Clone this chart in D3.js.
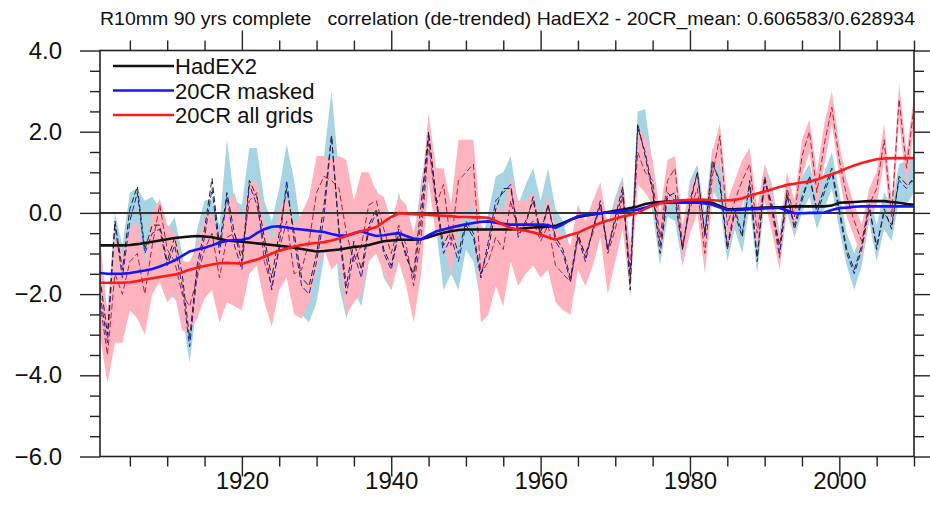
<!DOCTYPE html>
<html>
<head>
<meta charset="utf-8">
<script src="https://cdn.jsdelivr.net/npm/d3@7/dist/d3.min.js"></script>
<style>
  html, body { margin: 0; padding: 0; background: #fff; }
  svg { display: block; font-family: "Liberation Sans", Arial, Helvetica, sans-serif; }
</style>
</head>
<body>
<svg id="chart" width="930" height="523"></svg>
<script>
// R10mm anomalies, 1901-2010
const years = d3.range(1901, 2011);

// HadEX2 annual anomalies (dashed black)
const hadex = [
  -1.6,-3.0,-0.2,-1.4,0.1,0.65,-0.9,-0.3,-0.3,-1.2,
  -0.6,-1.5,-3.1,-1.3,-0.4,0.85,-0.8,0.5,-0.5,-1.2,
  0.8,0.4,-0.6,-1.6,-0.5,0.6,-0.5,-1.6,-1.8,-1.0,
  0.2,1.9,-0.4,-1.8,-0.7,-1.4,-0.3,0.1,-0.9,-1.3,
  -0.4,-1.1,-1.5,0.2,2.0,0.4,-0.8,-0.4,-1.0,-0.2,
  -0.5,-1.5,-0.9,0.1,0.6,0.6,-0.4,-0.3,0.4,-0.5,
  0.2,-0.6,-0.9,-1.6,-0.5,-1.1,-0.4,0.2,-0.9,-0.1,
  0.65,-1.9,2.2,1.4,0.5,-1.0,0.4,0.5,-0.9,0.3,
  1.0,-0.5,1.3,0.7,-0.9,0.0,-0.6,0.8,-1.1,0.9,
  0.1,-0.8,0.5,-0.4,0.3,0.9,0.1,0.6,1.1,0.1,
  -0.9,-1.4,-0.8,0.2,-0.9,0.1,-0.4,0.9,0.7,0.8
];

// 20CR ensemble mean, masked to HadEX2 coverage (dashed blue) and its spread
const masked = [
  -2.0,-3.2,-0.3,-1.6,-0.2,0.5,-1.0,-0.5,-0.4,-1.3,
  -0.8,-1.8,-3.3,-1.5,-0.6,0.6,-1.0,0.4,-0.8,-1.4,
  0.7,0.2,-0.8,-1.9,-0.8,0.8,-0.7,-1.8,-2.0,-1.2,
  -0.1,1.9,-0.5,-2.0,-1.0,-1.6,-0.4,0.0,-1.0,-1.4,
  -0.5,-1.0,-1.6,-0.2,1.9,0.3,-1.0,-0.6,-1.2,-0.3,
  -0.6,-1.6,-0.7,0.3,0.5,0.7,-0.6,-0.2,0.3,-0.6,
  0.2,-0.7,-1.0,-1.7,-0.6,-1.2,-0.4,0.3,-0.9,-0.2,
  0.5,-1.6,2.1,1.5,0.6,-0.8,0.5,0.3,-0.9,0.2,
  1.0,-0.6,1.2,0.8,-0.8,0.1,-0.5,0.7,-1.2,0.8,
  0.2,-1.0,0.4,-0.3,0.4,0.9,0.0,0.5,1.0,0.0,
  -1.0,-1.5,-0.9,0.1,-0.8,0.0,-0.3,0.8,0.6,0.9
];
const maskedLo = [
  -2.8,-3.6,-1.2,-2.2,-0.8,-0.4,-1.6,-1.2,-1.1,-2.0,
  -2.1,-2.5,-3.7,-2.2,-1.4,-0.9,-1.8,-0.6,-1.6,-2.2,
  -0.4,-0.8,-1.8,-2.4,-1.6,-0.5,-1.6,-2.5,-2.7,-2.2,
  -1.1,0.5,-1.8,-2.6,-1.9,-2.3,-1.2,-0.8,-1.6,-1.9,
  -1.0,-1.6,-2.2,-1.2,0.9,-0.4,-1.9,-1.5,-1.9,-0.9,
  -1.2,-2.2,-1.4,-0.6,-0.4,-0.2,-1.4,-1.0,-0.5,-1.2,
  -0.5,-1.4,-1.7,-2.2,-1.3,-1.8,-1.0,-0.3,-1.6,-0.8,
  -0.1,-2.1,1.4,1.1,0.0,-1.3,-0.1,-0.2,-1.3,-0.4,
  0.4,-1.1,0.6,0.2,-1.2,-0.4,-1.0,0.2,-1.5,0.3,
  -0.3,-1.3,0.0,-0.6,0.0,0.4,-0.4,0.1,0.6,-0.4,
  -1.3,-1.9,-1.3,-0.2,-1.2,-0.4,-0.7,0.3,0.2,0.5
];
const maskedHi = [
  -1.2,-2.4,0.0,-0.8,0.5,0.6,0.3,0.4,0.1,-0.4,
  -0.1,-1.0,-2.0,-0.4,0.3,0.35,-0.3,1.8,0.3,0.2,
  1.6,1.6,0.3,-0.2,0.6,1.7,0.8,-0.5,-0.6,0.0,
  1.4,3.0,1.0,-0.4,-0.2,-0.4,0.6,0.6,0.0,-0.6,
  0.5,-0.2,-0.8,0.8,1.7,0.6,-0.4,0.1,-0.4,0.5,
  0.2,-0.8,0.0,0.9,1.0,1.4,0.2,0.7,1.1,0.3,
  1.1,0.1,-0.2,-0.9,0.2,-0.5,0.3,0.6,-0.3,0.4,
  0.9,-1.0,2.5,2.55,1.2,-0.3,1.0,0.9,-0.4,0.8,
  1.2,0.0,1.6,1.3,-0.3,0.6,0.0,1.2,-0.7,1.2,
  0.7,-0.5,0.9,0.2,0.9,1.2,0.5,1.0,1.5,0.5,
  -0.5,-1.0,-0.4,0.5,-0.3,0.5,0.2,1.2,1.3,1.4
];

// 20CR ensemble mean over all grid boxes (dashed red) and its spread
const allGrids = [
  -2.2,-3.5,-1.5,-2.0,-1.2,-1.0,-2.0,-0.8,0.2,-0.9,
  -1.2,-2.0,-2.3,-1.6,-0.9,-0.5,-1.6,-0.6,-0.5,-1.0,
  0.3,0.5,-1.2,-1.8,-0.9,-0.2,-1.5,-1.4,-0.7,0.5,
  0.9,0.8,0.6,-0.5,-1.2,-0.8,0.2,0.3,-0.4,-1.0,
  -0.3,-0.8,-1.8,-0.6,1.7,0.2,0.7,-0.8,0.8,1.0,
  1.2,-1.5,-1.2,-0.6,-0.9,0.3,-0.5,-0.4,-0.2,-0.7,
  -0.3,-1.3,-1.5,-1.7,-0.6,-1.0,-0.5,0.2,-1.0,-0.4,
  0.4,-1.4,1.5,1.0,0.8,-0.6,0.8,1.1,-0.8,0.1,
  0.6,-1.0,0.9,1.9,-0.3,0.3,0.8,1.2,-0.5,0.8,
  0.0,-1.1,0.6,-0.1,1.4,2.0,0.5,1.7,2.6,1.3,
  0.4,-0.2,-0.7,0.2,0.6,1.8,-0.1,2.8,1.1,2.6
];
const allLo = [
  -3.0,-4.2,-3.2,-3.2,-2.4,-2.6,-3.0,-2.0,-1.7,-2.2,
  -2.0,-2.9,-2.9,-2.6,-2.1,-1.9,-2.7,-2.2,-2.3,-2.4,
  -1.5,-1.3,-2.2,-2.8,-1.9,-1.6,-2.5,-2.6,-2.2,-1.4,
  -0.9,-1.4,-1.2,-2.5,-2.2,-2.0,-1.2,-1.0,-1.5,-1.9,
  -1.2,-1.8,-2.7,-1.5,0.8,-0.6,-0.6,-1.6,-0.4,0.0,
  0.2,-2.7,-2.5,-1.8,-2.3,-1.2,-1.8,-1.5,-1.3,-1.6,
  -1.4,-2.2,-2.4,-2.5,-1.4,-1.8,-1.3,-0.6,-2.0,-1.2,
  -0.4,-2.0,0.7,0.5,0.2,-1.0,0.2,0.5,-1.3,-0.5,
  0.0,-1.5,0.3,1.4,-0.9,-0.3,0.2,0.7,-1.0,0.3,
  -0.5,-1.4,0.2,-0.5,0.9,1.5,0.1,1.2,2.2,0.9,
  -0.1,-0.6,-1.1,-0.2,0.2,1.3,-0.5,2.3,0.6,2.1
];
const allHi = [
  -0.6,-2.5,-0.5,-1.0,-0.4,-0.2,-1.2,0.0,0.35,-0.3,
  -0.5,-1.2,-1.2,-0.8,-0.1,0.0,-0.6,0.2,0.5,-0.2,
  0.75,0.8,-0.2,-0.7,0.1,0.4,-0.3,0.0,0.4,1.4,
  1.4,1.3,1.4,1.3,0.3,1.0,1.0,0.5,0.4,-0.2,
  0.4,0.2,-0.5,0.5,2.45,1.1,1.1,0.2,1.8,1.8,
  1.8,-0.3,-0.5,0.2,0.0,0.9,0.3,0.3,0.5,-0.1,
  0.4,-0.3,-0.6,-0.8,0.2,-0.2,0.3,0.75,-0.3,0.2,
  0.8,-0.8,2.1,1.9,1.3,0.0,1.3,1.4,-0.3,0.6,
  1.0,-0.4,1.5,2.2,0.3,0.8,1.3,1.6,0.1,1.2,
  0.5,-0.6,1.0,0.3,1.8,2.3,1.0,2.2,3.0,1.7,
  0.8,0.2,-0.3,0.6,1.0,2.2,0.3,3.2,1.5,2.9
];

// Smoothed curves (solid)
const hadexSmooth = [
  -0.80,-0.80,-0.80,-0.80,-0.79,-0.77,-0.74,-0.71,-0.68,-0.65,
  -0.62,-0.60,-0.58,-0.57,-0.58,-0.60,-0.64,-0.68,-0.70,-0.71,
  -0.73,-0.75,-0.77,-0.79,-0.81,-0.83,-0.86,-0.89,-0.92,-0.95,
  -0.94,-0.92,-0.90,-0.87,-0.84,-0.82,-0.79,-0.74,-0.70,-0.68,
  -0.66,-0.66,-0.66,-0.65,-0.60,-0.54,-0.49,-0.45,-0.42,-0.41,
  -0.41,-0.41,-0.41,-0.41,-0.41,-0.41,-0.40,-0.38,-0.36,-0.35,
  -0.34,-0.32,-0.25,-0.17,-0.10,-0.07,-0.04,-0.01,0.02,0.05,
  0.08,0.12,0.16,0.22,0.25,0.27,0.28,0.29,0.29,0.29,
  0.28,0.27,0.25,0.17,0.09,0.09,0.10,0.11,0.12,0.13,
  0.14,0.14,0.15,0.16,0.16,0.16,0.16,0.16,0.18,0.25,
  0.26,0.27,0.28,0.29,0.29,0.29,0.27,0.25,0.22,0.20
];
const maskedSmooth = [
  -1.48,-1.50,-1.50,-1.50,-1.48,-1.45,-1.42,-1.38,-1.32,-1.25,
  -1.17,-1.06,-0.95,-0.90,-0.86,-0.80,-0.73,-0.69,-0.67,-0.66,
  -0.62,-0.50,-0.40,-0.34,-0.33,-0.36,-0.39,-0.41,-0.43,-0.45,
  -0.47,-0.52,-0.56,-0.56,-0.50,-0.45,-0.52,-0.57,-0.55,-0.52,
  -0.50,-0.57,-0.63,-0.65,-0.55,-0.46,-0.41,-0.36,-0.32,-0.28,
  -0.25,-0.22,-0.21,-0.24,-0.27,-0.29,-0.29,-0.29,-0.29,-0.29,
  -0.30,-0.37,-0.28,-0.17,-0.08,-0.05,-0.03,-0.01,0.01,0.03,
  0.05,0.06,0.08,0.13,0.19,0.24,0.25,0.25,0.25,0.25,
  0.25,0.23,0.20,0.13,0.07,0.07,0.08,0.09,0.10,0.11,
  0.12,0.12,0.06,-0.01,-0.01,0.00,0.00,0.01,0.07,0.12,
  0.13,0.15,0.16,0.16,0.16,0.16,0.16,0.16,0.16,0.16
];
const allSmooth = [
  -1.72,-1.72,-1.72,-1.72,-1.71,-1.68,-1.64,-1.61,-1.58,-1.55,
  -1.52,-1.46,-1.40,-1.35,-1.31,-1.27,-1.24,-1.23,-1.24,-1.25,
  -1.20,-1.15,-1.08,-1.00,-0.93,-0.88,-0.83,-0.79,-0.76,-0.74,
  -0.72,-0.68,-0.63,-0.57,-0.50,-0.45,-0.40,-0.35,-0.22,-0.10,
  -0.01,-0.02,-0.03,-0.04,-0.05,-0.06,-0.07,-0.08,-0.10,-0.10,
  -0.11,-0.11,-0.12,-0.20,-0.29,-0.37,-0.41,-0.44,-0.48,-0.53,
  -0.60,-0.66,-0.60,-0.54,-0.49,-0.40,-0.32,-0.25,-0.19,-0.14,
  -0.09,-0.05,0.00,0.10,0.18,0.24,0.27,0.29,0.31,0.32,
  0.33,0.32,0.31,0.30,0.31,0.32,0.36,0.42,0.48,0.53,
  0.58,0.64,0.69,0.72,0.75,0.77,0.82,0.89,0.95,1.02,
  1.10,1.17,1.23,1.28,1.32,1.34,1.35,1.35,1.35,1.35
];

const legendLabels = ["HadEX2", "20CR masked", "20CR all grids"];
const yTickValues = [4, 2, 0, -2, -4, -6];
const xTickValues = [1920, 1940, 1960, 1980, 2000];
const titleText = "R10mm 90 yrs complete   correlation (de-trended) HadEX2 - 20CR_mean: 0.606583/0.628934";

(function draw() {
  const W = 930, H = 523;
  const margin = { left: 100, right: 16, top: 50.5, bottom: 66.5 };
  const svg = d3.select("#chart");

  const x = d3.scaleLinear().domain([1901, 2010]).range([margin.left, W - margin.right]);
  const y = d3.scaleLinear().domain([-6, 4]).range([H - margin.bottom, margin.top]);

  const blueFill = "#a7d4e2", pinkFill = "#ffb3bf";
  const lineBlue = "#1414ff", lineRed = "#ff1a1a";

  const idx = d3.range(years.length);
  svg.append("clipPath").attr("id", "plotclip").append("rect")
    .attr("x", x(1901)).attr("y", y(4)).attr("width", x(2010) - x(1901)).attr("height", y(-6) - y(4));
  const plot = svg.append("g").attr("clip-path", "url(#plotclip)");

  // spread bands
  const band = (lo, hi) => d3.area().x(i => x(years[i])).y0(i => y(lo[i])).y1(i => y(hi[i]));
  plot.append("path").attr("d", band(maskedLo, maskedHi)(idx)).attr("fill", blueFill);
  plot.append("path").attr("d", band(allLo, allHi)(idx)).attr("fill", pinkFill);

  // annual series, dashed
  const line = arr => d3.line().x(i => x(years[i])).y(i => y(arr[i]))(idx);
  plot.append("path").attr("d", line(allGrids)).attr("fill", "none")
    .attr("stroke", "#b02040").attr("stroke-width", 1).attr("stroke-dasharray", "6,3");
  plot.append("path").attr("d", line(masked)).attr("fill", "none")
    .attr("stroke", "#2020b0").attr("stroke-width", 1).attr("stroke-dasharray", "6,3");
  plot.append("path").attr("d", line(hadex)).attr("fill", "none")
    .attr("stroke", "#222").attr("stroke-width", 1).attr("stroke-dasharray", "6,3");

  // zero reference
  plot.append("line").attr("x1", x(1901)).attr("x2", x(2010)).attr("y1", y(0)).attr("y2", y(0))
    .attr("stroke", "#333").attr("stroke-width", 2);

  // smoothed curves
  plot.append("path").attr("d", line(hadexSmooth)).attr("fill", "none").attr("stroke", "#111").attr("stroke-width", 2.6);
  plot.append("path").attr("d", line(maskedSmooth)).attr("fill", "none").attr("stroke", lineBlue).attr("stroke-width", 2.6);
  plot.append("path").attr("d", line(allSmooth)).attr("fill", "none").attr("stroke", lineRed).attr("stroke-width", 2.6);

  // frame
  svg.append("rect").attr("x", x(1901)).attr("y", y(4)).attr("width", x(2010) - x(1901)).attr("height", y(-6) - y(4))
    .attr("fill", "none").attr("stroke", "#222").attr("stroke-width", 1.6);

  // axes
  const yMinor = d3.range(-6, 4.01, 0.5).filter(v => !yTickValues.includes(v));
  const xMinor = d3.range(1905, 2010.1, 5).filter(v => !xTickValues.includes(v));

  const axLeft = svg.append("g").attr("transform", `translate(${x(1901)},0)`)
    .call(d3.axisLeft(y).tickValues(yTickValues).tickSize(20).tickPadding(18).tickFormat(d3.format(".1f")));
  axLeft.append("g").call(d3.axisLeft(y).tickValues(yMinor).tickSize(10).tickFormat(""));
  const axRight = svg.append("g").attr("transform", `translate(${x(2010)},0)`)
    .call(d3.axisRight(y).tickValues(yTickValues).tickSize(20).tickFormat(""));
  axRight.append("g").call(d3.axisRight(y).tickValues(yMinor).tickSize(10).tickFormat(""));
  const axBottom = svg.append("g").attr("transform", `translate(0,${y(-6)})`)
    .call(d3.axisBottom(x).tickValues(xTickValues).tickSize(20).tickPadding(-5).tickFormat(d3.format("d")));
  axBottom.append("g").call(d3.axisBottom(x).tickValues(xMinor).tickSize(10).tickFormat(""));
  const axTop = svg.append("g").attr("transform", `translate(0,${y(4)})`)
    .call(d3.axisTop(x).tickValues(xTickValues).tickSize(20).tickFormat(""));
  axTop.append("g").call(d3.axisTop(x).tickValues(xMinor).tickSize(10).tickFormat(""));

  svg.selectAll(".domain").remove();
  svg.selectAll(".tick line").attr("stroke", "#222").attr("stroke-width", 1.4);
  axLeft.selectAll(".tick text").attr("font-size", 24).attr("fill", "#111")
    .attr("font-family", "Liberation Sans, Arial, sans-serif");
  axBottom.selectAll(".tick text").attr("font-size", 24).attr("fill", "#111")
    .attr("font-family", "Liberation Sans, Arial, sans-serif");

  // title
  svg.append("text").attr("x", 100).attr("y", 25).attr("font-size", 19).attr("fill", "#111")
    .style("white-space", "pre")
    .attr("textLength", 815).attr("lengthAdjust", "spacingAndGlyphs")
    .text(titleText);

  // legend
  const legendColors = ["#111", lineBlue, lineRed];
  const lg = svg.append("g");
  legendLabels.forEach((lab, i) => {
    const ly = 66 + i * 24.5;
    lg.append("line").attr("x1", 113).attr("x2", 174).attr("y1", ly).attr("y2", ly)
      .attr("stroke", legendColors[i]).attr("stroke-width", 2.6);
    lg.append("text").attr("x", 175).attr("y", ly + 8).attr("font-size", 22).attr("fill", "#111").text(lab);
  });
})();
</script>
</body>
</html>
